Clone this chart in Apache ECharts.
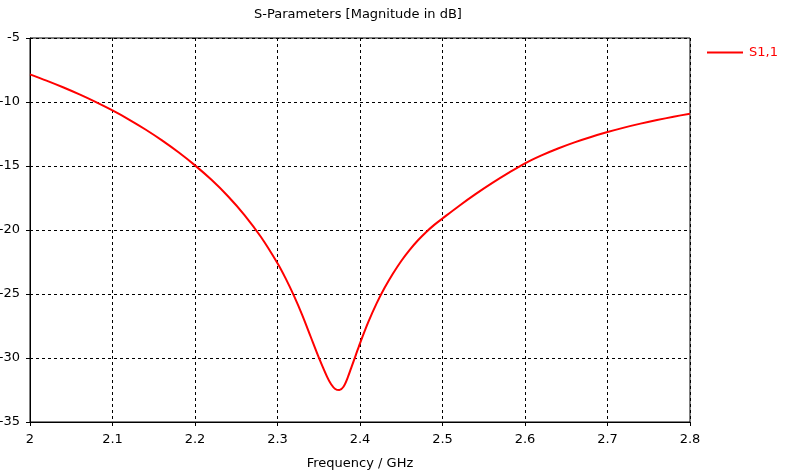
<!DOCTYPE html>
<html>
<head>
<meta charset="utf-8">
<script src="https://cdn.jsdelivr.net/npm/echarts@6/dist/echarts.min.js"></script>
<style>html,body{margin:0;padding:0;background:#fff}#c{width:792px;height:473px}</style>
</head>
<body>
<div id="c"></div>
<script>
const titleText = 'S-Parameters [Magnitude in dB]';
const xAxisName = 'Frequency / GHz';
const seriesName = 'S1,1';
const freq = [2.00, 2.02, 2.04, 2.06, 2.08, 2.10, 2.12, 2.14, 2.16, 2.18, 2.20, 2.22, 2.24, 2.26, 2.28, 2.30, 2.31, 2.32, 2.33, 2.34, 2.35, 2.36, 2.365, 2.37, 2.375, 2.38, 2.385, 2.39, 2.395, 2.40, 2.41, 2.42, 2.43, 2.44, 2.45, 2.46, 2.47, 2.48, 2.49, 2.50, 2.52, 2.54, 2.56, 2.58, 2.60, 2.62, 2.64, 2.66, 2.68, 2.70, 2.72, 2.74, 2.76, 2.78, 2.80];
const s11 = [-7.84, -8.33, -8.85, -9.41, -10.01, -10.66, -11.37, -12.15, -13.00, -13.93, -14.95, -16.08, -17.36, -18.83, -20.55, -22.60, -23.80, -25.15, -26.65, -28.30, -29.95, -31.45, -32.05, -32.42, -32.50, -32.25, -31.55, -30.65, -29.75, -28.85, -27.20, -25.75, -24.50, -23.40, -22.42, -21.57, -20.82, -20.17, -19.60, -19.10, -18.12, -17.20, -16.34, -15.54, -14.79, -14.17, -13.63, -13.15, -12.73, -12.35, -12.00, -11.69, -11.41, -11.15, -10.91];
const xTicks = ['2', '2.1', '2.2', '2.3', '2.4', '2.5', '2.6', '2.7', '2.8'];
const yTicks = ['-35', '-30', '-25', '-20', '-15', '-10', '-5'];

const font = 'DejaVu Sans';
const chart = echarts.init(document.getElementById('c'), null, {renderer: 'canvas'});
chart.setOption({
  animation: false,
  backgroundColor: '#fff',
  title: {
    text: titleText, left: 358, top: 8, textAlign: 'center', padding: 0,
    textStyle: {fontFamily: font, fontSize: 13, fontWeight: 'normal', color: '#000'}
  },
  legend: {
    data: [seriesName], left: 707, top: 46, icon: 'rect', itemWidth: 36, itemHeight: 2, itemGap: 6, padding: 0,
    textStyle: {fontFamily: font, fontSize: 13, color: '#ff0000', padding: [0, 0, 0, 1]}
  },
  grid: {left: 30, right: 102, top: 38, bottom: 51, show: true, borderColor: '#000', borderWidth: 1,
    containLabel: false, outerBoundsMode: 'none'},
  xAxis: {
    type: 'value', min: 2, max: 2.8, interval: 0.1,
    name: xAxisName, nameLocation: 'middle', nameGap: 35,
    nameTextStyle: {fontFamily: font, fontSize: 13, color: '#000'},
    axisLine: {lineStyle: {color: '#000', width: 1}},
    axisTick: {show: true, length: 4, lineStyle: {color: '#000'}},
    axisLabel: {fontFamily: font, fontSize: 13, color: '#000', margin: 11,
      formatter: v => xTicks[Math.round((v - 2) * 10)]},
    splitLine: {show: true, lineStyle: {color: '#000', type: [3, 3], width: 1}}
  },
  yAxis: {
    type: 'value', min: -35, max: -5, interval: 5,
    axisLine: {show: true, lineStyle: {color: '#000', width: 1}},
    axisTick: {show: true, length: 4, lineStyle: {color: '#000'}},
    axisLabel: {fontFamily: font, fontSize: 13, color: '#000', margin: 10,
      formatter: v => yTicks[Math.round((v + 35) / 5)]},
    splitLine: {show: true, lineStyle: {color: '#000', type: [3, 3], width: 1}}
  },
  series: [{
    name: seriesName, type: 'line', smooth: 0.3, showSymbol: false,
    lineStyle: {color: '#ff0000', width: 2}, itemStyle: {color: '#ff0000'},
    data: freq.map((f, i) => [f, s11[i]])
  }]
});
</script>
</body>
</html>
